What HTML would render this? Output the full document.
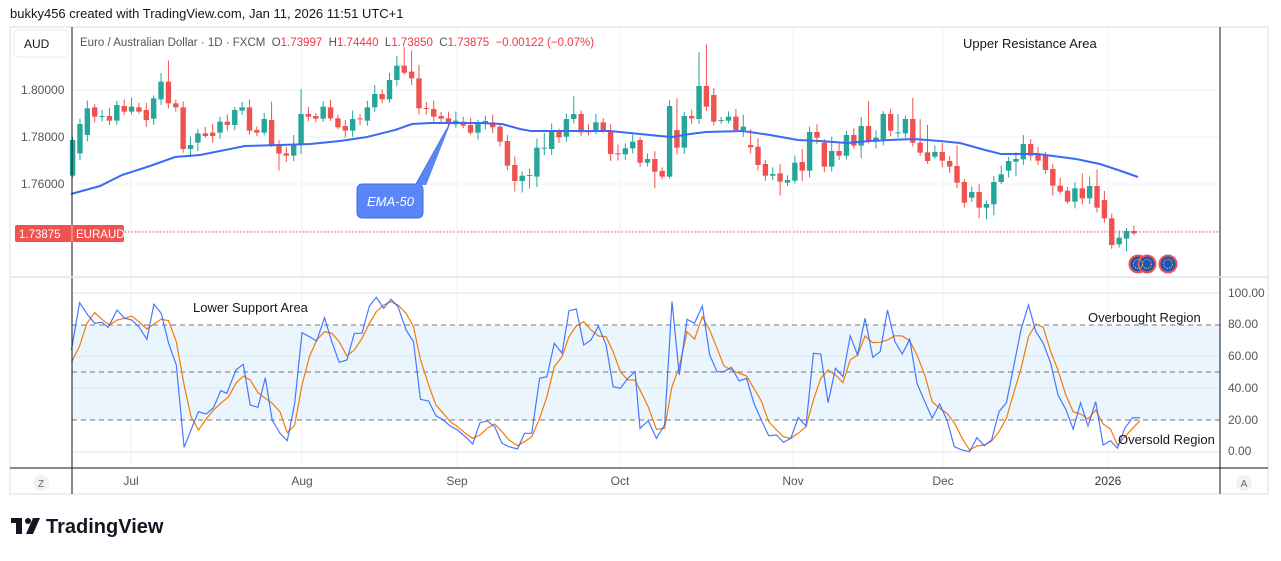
<!DOCTYPE html>
<html><head><meta charset="utf-8">
<style>
html,body{margin:0;padding:0;background:#fff;}
body{width:1281px;height:556px;overflow:hidden;font-family:"Liberation Sans",sans-serif;}
svg text{font-family:"Liberation Sans",sans-serif;}
</style></head>
<body>
<svg id="s" width="1281" height="556" viewBox="0 0 1281 556" xmlns="http://www.w3.org/2000/svg">
<rect width="1281" height="556" fill="#fff"/>
<text x="10" y="18" font-size="13" fill="#131722">bukky456 created with TradingView.com, Jan 11, 2026 11:51 UTC+1</text>
<rect x="10" y="27" width="1258" height="467" fill="#fff" stroke="#e6e8ee" stroke-width="1.5"/>
<g id="grid"></g>
<rect x="72" y="325" width="1148" height="95" fill="#e3f2fd" opacity="0.75"/>
<g id="grid2"></g>
<g id="candles"></g>
<polyline id="ema" fill="none" stroke="#3d6af2" stroke-width="2"/>
<line x1="72" y1="232" x2="1220" y2="232" stroke="#ef5350" stroke-width="1" stroke-dasharray="1.5 2"/>
<g id="osc"></g>
<line x1="72" y1="27" x2="72" y2="494" stroke="#131722" stroke-width="1"/>
<line x1="1220" y1="27" x2="1220" y2="494" stroke="#131722" stroke-width="1"/>
<line x1="10" y1="277" x2="1268" y2="277" stroke="#e0e3eb" stroke-width="1.5"/>
<line x1="10" y1="468" x2="1268" y2="468" stroke="#131722" stroke-width="1"/>
<rect x="14" y="30" width="54" height="27" rx="4" fill="#fff" stroke="#eceef2"/>
<text x="24" y="48" font-size="12" fill="#131722">AUD</text>
<text x="80" y="46" font-size="11.5" fill="#555" xml:space="preserve"><tspan>Euro / Australian Dollar · 1D · FXCM  O</tspan><tspan fill="#f23645">1.73997</tspan><tspan>  H</tspan><tspan fill="#f23645">1.74440</tspan><tspan>  L</tspan><tspan fill="#f23645">1.73850</tspan><tspan>  C</tspan><tspan fill="#f23645">1.73875  −0.00122 (−0.07%)</tspan></text>
<g font-size="12" fill="#555">
<text x="21" y="94">1.80000</text><text x="21" y="141">1.78000</text><text x="21" y="188">1.76000</text>
</g>
<rect x="15" y="225" width="109" height="17" rx="2" fill="#ef5350"/>
<text x="19" y="238" font-size="11.5" fill="#fff">1.73875</text>
<line x1="72" y1="225" x2="72" y2="242" stroke="#fff" stroke-width="0.6"/>
<text x="76" y="238" font-size="11.5" fill="#fff">EURAUD</text>
<g font-size="12" fill="#555">
<text x="1228" y="297">100.00</text><text x="1228" y="328">80.00</text><text x="1228" y="360">60.00</text>
<text x="1228" y="392">40.00</text><text x="1228" y="424">20.00</text><text x="1228" y="455">0.00</text>
</g>
<g font-size="12" fill="#555" text-anchor="middle">
<text x="131" y="485">Jul</text><text x="302" y="485">Aug</text><text x="457" y="485">Sep</text><text x="620" y="485">Oct</text>
<text x="793" y="485">Nov</text><text x="943" y="485">Dec</text><text x="1108" y="485" fill="#333">2026</text>
</g>
<circle cx="41" cy="483" r="8" fill="#f0f1f3"/><text x="41" y="487" font-size="10" fill="#666" text-anchor="middle">Z</text>
<circle cx="1244" cy="483" r="8" fill="#f0f1f3"/><text x="1244" y="487" font-size="10" fill="#666" text-anchor="middle">A</text>
<g font-size="13" fill="#131722">
<text x="963" y="48">Upper Resistance Area</text>
<text x="193" y="312">Lower Support Area</text>
<text x="1088" y="322">Overbought Region</text>
<text x="1118" y="444">Oversold Region</text>
</g>
<path d="M363 184 H416 L450 123 L426 184 H417 Q423 184 423 190 V212 Q423 218 417 218 H363 Q357 218 357 212 V190 Q357 184 363 184 Z" fill="#5b86f7" stroke="#3d6be0" stroke-width="1"/>
<path d="M416 185 L450 123 L426 185 Z" fill="#5b86f7"/>
<text x="367" y="206" font-size="13" font-style="italic" fill="#fff">EMA-50</text>
<g>
<circle cx="1138" cy="264" r="8.5" fill="#1e55b3" stroke="#ef5350" stroke-width="2"/>
<circle cx="1147" cy="264" r="8.5" fill="#1e55b3" stroke="#ef5350" stroke-width="2"/>
<circle cx="1168" cy="264" r="8.5" fill="#1e55b3" stroke="#ef5350" stroke-width="2"/>
<circle cx="1138" cy="264" r="4.5" fill="none" stroke="#ffd84d" stroke-width="1" stroke-dasharray="1 1.3"/>
<circle cx="1147" cy="264" r="4.5" fill="none" stroke="#ffd84d" stroke-width="1" stroke-dasharray="1 1.3"/>
<circle cx="1168" cy="264" r="4.5" fill="none" stroke="#ffd84d" stroke-width="1" stroke-dasharray="1 1.3"/>
</g>
<g fill="#131722">
<rect x="11" y="518" width="11" height="5"/><rect x="16" y="518" width="6" height="16"/>
<circle cx="28" cy="521" r="3"/><path d="M33 518 H40 L33 534 H26 Z"/>
</g>
<text x="46" y="533" font-size="20" font-weight="bold" fill="#131722">TradingView</text>
</svg>
<script>
(function(){
var NS="http://www.w3.org/2000/svg";
function el(p,n,a){var e=document.createElementNS(NS,n);for(var k in a)e.setAttribute(k,a[k]);p.appendChild(e);return e;}
var g=document.getElementById('grid'),g2=document.getElementById('grid2');
[90,137,184,231].forEach(function(y){el(g,'line',{x1:72,x2:1220,y1:y,y2:y,stroke:'#edf0f5','stroke-width':1});});
[131,302,457,620,793,943,1108].forEach(function(x){el(g,'line',{x1:x,x2:x,y1:27,y2:468,stroke:'#edf0f5','stroke-width':1});});
[293,356,388,452].forEach(function(y){el(g2,'line',{x1:72,x2:1220,y1:y,y2:y,stroke:'#dbe6f3','stroke-width':1});});
[325,372,420].forEach(function(y){el(g2,'line',{x1:72,x2:1220,y1:y,y2:y,stroke:'#777','stroke-width':1,'stroke-dasharray':'5 4'});});
var A=[[527,420],[460,372],[405,325],[322,350],[350,348],[348,362],[362,315],[318,335],[335,320],[322,335],[330,360],[356,295],[298,245],[245,310],[310,322],[322,447],[447,435],[428,400],[400,408],[398,408],[398,365],[365,375],[375,330],[332,322],[322,392],[390,398],[398,357],[360,435],[433,461],[460,467],[467,432],[432,342],[342,350],[348,356],[356,320],[322,355],[355,382],[378,392],[392,357],[355,358],[362,322],[322,282],[282,298],[298,240],[240,197],[197,218],[215,235],[235,325],[324,327],[327,350],[348,356],[355,368],[373,362],[365,377],[375,398],[398,368],[370,363],[367,382],[380,425],[423,497],[495,543],[543,527],[525,528],[530,443],[445,443],[447,392],[395,412],[410,357],[357,342],[342,397],[390,397],[395,367],[367,392],[393,462],[460,463],[463,445],[445,425],
[420,488],[488,477],[477,515],[513,530],[530,318],[390,443],[443,348],[348,355],[357,258],[258,320],[285,365],[362,360],[362,350],[350,390],[390,380],[435,442],[440,495],[492,527],[527,522],[520,545],[548,540],[542,488],[486,512],[512,396],[396,413],[428,500],[500,453],[453,467],[467,405],[405,437],[437,378],[378,425],[425,413],[418,342],[342,392],[398,397],[400,357],[357,428],[428,458],[457,483],[470,456],[456,482],[483,500],[498,548],[546,608],[593,576],[576,623],[623,612],[613,546],[546,523],[512,483],[485,477],[478,432],[432,467],[462,482],[465,510],[507,557],[557,575],[572,605],[605,565],[565,595],[595,558],[558,623],[600,655],[655,735],[733,713],[716,693],[693,700]];
var hi={12:-10,13:-40,44:-20,45:-40,46:-40,47:-30,27:-30,31:-60,64:-30,68:-30,82:-70,85:-75,86:-110,91:-25,92:-30,108:-60,112:-30,114:-45,115:-45,116:-70,120:-40,145:-30,146:-30,139:-30,137:-20,138:-15,103:-25,99:-30};
var lo={16:15,28:30,60:20,61:25,62:30,63:25,31:15,44:10,17:18,96:30,79:40,99:25,107:30,123:20,124:25,125:25,128:25,143:30,133:20};
var c=document.getElementById('candles');
for(var i=0;i<A.length;i++){
 var o=A[i][0]/3,cl=A[i][1]/3,x=72.6+i*7.37;
 var col=cl<o?'#26a69a':(cl>o?'#ef5350':'#26a69a');
 var t=Math.min(o,cl),b=Math.max(o,cl);
 var r=((i*37)%11);
 var h=t-(3+r*0.6)+((hi[i]||0)/3), l=b+(2+((i*53)%9)*0.6)+((lo[i]||0)/3);
 el(c,'line',{x1:x,x2:x,y1:h,y2:l,stroke:col,'stroke-width':1});
 el(c,'rect',{x:x-2.7,y:t,width:5.4,height:Math.max(1,b-t),fill:col});
}
document.getElementById('ema').setAttribute('points',"71,194 100,186 122,175 150,166 175,157 200,155 245,146 280,145 310,144 340,141 367,137 395,130 412,124 430,123 449,123 480,123 502,124 520,129 531,131 580,131 610,131 640,134 660,136 672,137 690,134 706,132 743,131 770,135 798,140 820,141 847,143 870,141 889,140 914,139 940,141 960,143 985,150 1001,154 1038,154 1076,159 1100,164 1118,170 1138,177");
var B1=[[175,240],[195,98],[215,135],[232,160],[250,157],[265,172],[287,120],[305,145],[323,150],[340,170],[360,208],[377,103],[395,130],[413,220],[432,285],[451,532],[468,480],[486,425],[505,432],[523,413],[541,362],[556,370],[578,300],[596,283],[613,405],[632,412],[650,323],[667,450],[686,490],[704,512],[722,400],[740,188],[758,200],[776,213],[795,143],[813,215],[831,277],[850,270],[868,190],[887,190],[905,108],[922,82],[940,115],[958,88],[975,110],[995,180],[1013,215],[1030,388],[1050,393],[1068,437],[1086,450],[1103,468],[1121,480],[1140,500],[1158,522],[1176,458],[1194,453],[1212,470],[1230,520],[1247,530],[1268,537],[1285,490],[1303,490],[1322,325],[1340,320],[1358,220],[1377,250],[1394,122],[1412,117],[1430,225],[1448,210],[1466,168],[1485,225],[1502,350],[1520,355],[1538,325],[1556,305]];
var O1=[[175,277],[195,228],[213,160],[232,128],[250,148],[268,165],[287,150],[305,145],[323,138],[340,155],[360,177],[377,162],[395,148],[413,152],[432,215],[451,345],[468,440],[486,480],[505,447],[523,420],[541,400],[560,380],[578,340],[596,318],[613,330],[632,368],[650,385],[667,400],[686,425],[704,488],[722,465],[740,345],[758,260],[776,210],[795,185],[813,190],[831,215],[850,258],[868,240],[887,205],[905,160],[922,125],[940,105],[958,95],[975,105],[995,130],[1013,170],[1030,268],[1050,345],[1068,405],[1086,430],[1103,455],[1121,470],[1140,490],[1158,505],[1176,495],[1194,475],[1212,462],[1230,485],[1247,510],[1268,527],[1285,515],[1303,500],[1322,445],[1340,380],[1358,290],[1377,260],[1394,200],[1412,168],[1430,155],[1448,180],[1466,198],[1485,200],[1502,245],[1520,305],[1538,330],[1556,330]];
var B2=[[0,475],[20,452],[40,505],[60,465],[78,95],[96,315],[115,148],[133,160],[152,108],[170,255],[188,305],[205,305],[223,292],[242,333],[260,325],[278,400],[296,450],[314,497],[333,495],[350,517],[368,505],[386,443],[405,468],[423,250],[441,252],[459,398],[477,295],[495,320],[513,197],[531,255],[549,145],[568,262],[586,245],[604,120],[622,215],[640,252],[658,208],[676,340],[695,395],[713,445],[731,402],[749,450],[767,530],[786,540],[804,545],[822,503],[840,527],[858,510],[876,425],[894,398],[912,288],[930,178],[948,105],[966,185],[984,220],[1002,280],[1020,375],[1039,418],[1057,478],[1075,398],[1093,468],[1112,395],[1130,525],[1148,512],[1165,535],[1183,475],[1202,443],[1220,443]];
var O2=[[0,360],[20,410],[40,478],[60,475],[78,350],[96,290],[115,185],[133,208],[152,140],[170,180],[188,235],[205,288],[223,300],[242,310],[260,318],[278,355],[296,393],[314,455],[333,480],[350,500],[368,505],[386,490],[405,470],[423,390],[441,325],[459,300],[477,315],[495,338],[513,270],[531,255],[549,198],[568,218],[586,217],[604,210],[622,197],[640,198],[658,212],[676,255],[695,315],[713,395],[731,415],[749,430],[767,458],[786,505],[804,540],[822,528],[840,525],[858,513],[876,485],[894,445],[912,368],[930,295],[948,200],[966,162],[984,172],[1002,245],[1020,300],[1039,375],[1057,425],[1075,432],[1093,447],[1112,420],[1130,462],[1148,477],[1165,525],[1183,500],[1202,475],[1220,452]];
function pts(a,b){var s=[];a.forEach(function(p){s.push((p[0]/2.45).toFixed(1)+','+(270+p[1]/3).toFixed(1));});b.forEach(function(p){s.push((640+p[0]/2.44).toFixed(1)+','+(270+p[1]/3).toFixed(1));});return s.join(' ');}
var os=document.getElementById('osc');
el(os,'polyline',{points:pts(O1,O2),fill:'none',stroke:'#f57c00','stroke-width':1.2});
el(os,'polyline',{points:pts(B1,B2),fill:'none',stroke:'#2962ff','stroke-width':1.2,opacity:0.85});
})();
</script>
</body></html>
